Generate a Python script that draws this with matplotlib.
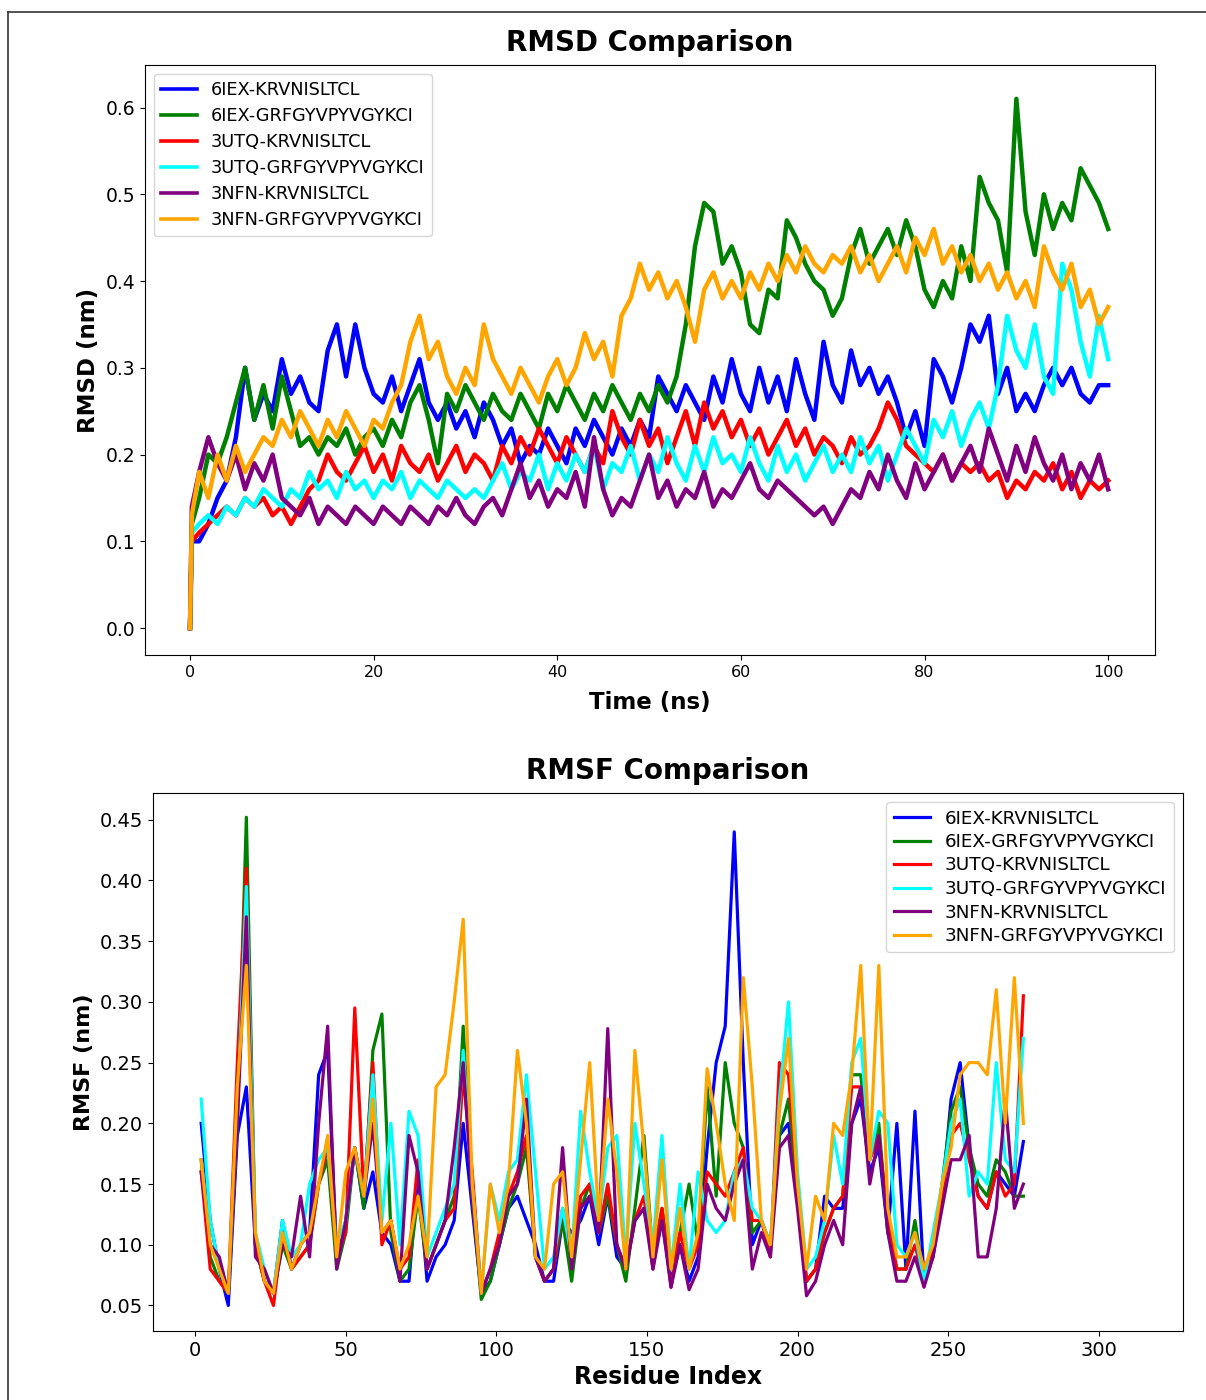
"""
RMSD / RMSF comparison of six peptide-protein complexes
"""

import matplotlib
matplotlib.use('Agg')
import matplotlib.pyplot as plt
from matplotlib.lines import Line2D
import numpy as np

# ---------------- data ----------------
labels = ["6IEX-KRVNISLTCL", "6IEX-GRFGYVPYVGYKCI",
          "3UTQ-KRVNISLTCL", "3UTQ-GRFGYVPYVGYKCI",
          "3NFN-KRVNISLTCL", "3NFN-GRFGYVPYVGYKCI"]
colors = ['blue', 'green', 'red', 'cyan', 'purple', 'orange']

# RMSD time axis (ns)
time_ns = np.concatenate(([0.0, 0.2], np.arange(1, 101)))

rmsd_6iex_krv = [0.00, 0.10,
    0.10, 0.12, 0.15, 0.17, 0.22, 0.30, 0.24, 0.27, 0.25, 0.31,
    0.27, 0.29, 0.26, 0.25, 0.32, 0.35, 0.29, 0.35, 0.30, 0.27,
    0.26, 0.29, 0.25, 0.28, 0.31, 0.26, 0.24, 0.26, 0.23, 0.25,
    0.22, 0.26, 0.24, 0.21, 0.23, 0.19, 0.21, 0.20, 0.23, 0.21,
    0.19, 0.23, 0.21, 0.24, 0.22, 0.20, 0.23, 0.21, 0.24, 0.22,
    0.29, 0.27, 0.25, 0.28, 0.26, 0.24, 0.29, 0.26, 0.31, 0.27,
    0.25, 0.30, 0.26, 0.29, 0.25, 0.31, 0.27, 0.24, 0.33, 0.28,
    0.26, 0.32, 0.28, 0.30, 0.27, 0.29, 0.26, 0.22, 0.25, 0.21,
    0.31, 0.29, 0.26, 0.30, 0.35, 0.33, 0.36, 0.27, 0.30, 0.25,
    0.27, 0.25, 0.28, 0.30, 0.28, 0.30, 0.27, 0.26, 0.28, 0.28]
rmsd_6iex_grf = [0.00, 0.12,
    0.15, 0.20, 0.19, 0.22, 0.26, 0.30, 0.24, 0.28, 0.23, 0.29,
    0.25, 0.21, 0.22, 0.20, 0.22, 0.21, 0.23, 0.20, 0.22, 0.23,
    0.21, 0.24, 0.22, 0.26, 0.28, 0.24, 0.19, 0.27, 0.25, 0.28,
    0.26, 0.24, 0.27, 0.25, 0.24, 0.27, 0.25, 0.23, 0.27, 0.25,
    0.28, 0.26, 0.24, 0.27, 0.25, 0.28, 0.26, 0.24, 0.27, 0.25,
    0.28, 0.26, 0.29, 0.35, 0.44, 0.49, 0.48, 0.42, 0.44, 0.41,
    0.35, 0.34, 0.39, 0.38, 0.47, 0.45, 0.42, 0.40, 0.39, 0.36,
    0.38, 0.43, 0.46, 0.42, 0.44, 0.46, 0.43, 0.47, 0.44, 0.39,
    0.37, 0.40, 0.38, 0.44, 0.40, 0.52, 0.49, 0.47, 0.41, 0.61,
    0.48, 0.43, 0.50, 0.46, 0.49, 0.47, 0.53, 0.51, 0.49, 0.46]
rmsd_3utq_krv = [0.00, 0.10,
    0.11, 0.12, 0.13, 0.14, 0.13, 0.15, 0.14, 0.15, 0.13, 0.14,
    0.12, 0.14, 0.16, 0.17, 0.20, 0.18, 0.17, 0.19, 0.21, 0.18,
    0.20, 0.17, 0.21, 0.19, 0.18, 0.20, 0.17, 0.19, 0.21, 0.18,
    0.20, 0.19, 0.17, 0.21, 0.19, 0.22, 0.20, 0.23, 0.21, 0.19,
    0.22, 0.20, 0.18, 0.21, 0.19, 0.25, 0.22, 0.20, 0.24, 0.21,
    0.23, 0.19, 0.22, 0.25, 0.21, 0.26, 0.23, 0.25, 0.22, 0.24,
    0.21, 0.23, 0.20, 0.22, 0.24, 0.21, 0.23, 0.20, 0.22, 0.21,
    0.19, 0.22, 0.20, 0.21, 0.23, 0.26, 0.24, 0.21, 0.20, 0.19,
    0.18, 0.20, 0.17, 0.19, 0.18, 0.19, 0.17, 0.18, 0.15, 0.17,
    0.16, 0.18, 0.17, 0.19, 0.16, 0.18, 0.15, 0.17, 0.16, 0.17]
rmsd_3utq_grf = [0.00, 0.11,
    0.12, 0.13, 0.12, 0.14, 0.13, 0.15, 0.14, 0.16, 0.15, 0.14,
    0.16, 0.15, 0.18, 0.16, 0.17, 0.15, 0.18, 0.16, 0.17, 0.15,
    0.17, 0.16, 0.18, 0.15, 0.17, 0.16, 0.15, 0.17, 0.16, 0.15,
    0.16, 0.15, 0.17, 0.19, 0.16, 0.18, 0.17, 0.20, 0.16, 0.19,
    0.17, 0.20, 0.18, 0.21, 0.16, 0.19, 0.18, 0.21, 0.17, 0.20,
    0.18, 0.22, 0.19, 0.17, 0.21, 0.18, 0.22, 0.19, 0.20, 0.18,
    0.22, 0.19, 0.17, 0.21, 0.18, 0.20, 0.17, 0.19, 0.21, 0.18,
    0.20, 0.18, 0.22, 0.19, 0.21, 0.17, 0.20, 0.23, 0.21, 0.19,
    0.24, 0.22, 0.25, 0.21, 0.24, 0.26, 0.23, 0.28, 0.36, 0.32,
    0.30, 0.35, 0.29, 0.27, 0.42, 0.39, 0.33, 0.29, 0.36, 0.31]
rmsd_3nfn_krv = [0.00, 0.14,
    0.18, 0.22, 0.19, 0.17, 0.20, 0.16, 0.19, 0.17, 0.20, 0.15,
    0.14, 0.13, 0.15, 0.12, 0.14, 0.13, 0.12, 0.14, 0.13, 0.12,
    0.14, 0.13, 0.12, 0.14, 0.13, 0.12, 0.14, 0.13, 0.15, 0.13,
    0.12, 0.14, 0.15, 0.13, 0.16, 0.19, 0.15, 0.17, 0.14, 0.16,
    0.15, 0.18, 0.14, 0.22, 0.16, 0.13, 0.15, 0.14, 0.17, 0.20,
    0.15, 0.17, 0.14, 0.16, 0.15, 0.18, 0.14, 0.16, 0.15, 0.17,
    0.19, 0.16, 0.15, 0.17, 0.16, 0.15, 0.14, 0.13, 0.14, 0.12,
    0.14, 0.16, 0.15, 0.18, 0.16, 0.20, 0.17, 0.15, 0.19, 0.16,
    0.18, 0.20, 0.17, 0.19, 0.21, 0.18, 0.23, 0.20, 0.17, 0.21,
    0.18, 0.22, 0.19, 0.17, 0.20, 0.16, 0.19, 0.17, 0.20, 0.16]
rmsd_3nfn_grf = [0.00, 0.13,
    0.18, 0.15, 0.20, 0.17, 0.21, 0.18, 0.20, 0.22, 0.21, 0.24,
    0.22, 0.25, 0.23, 0.21, 0.24, 0.22, 0.25, 0.23, 0.21, 0.24,
    0.23, 0.26, 0.28, 0.33, 0.36, 0.31, 0.33, 0.29, 0.27, 0.30,
    0.28, 0.35, 0.31, 0.29, 0.27, 0.30, 0.28, 0.26, 0.29, 0.31,
    0.28, 0.30, 0.34, 0.31, 0.33, 0.29, 0.36, 0.38, 0.42, 0.39,
    0.41, 0.38, 0.40, 0.37, 0.33, 0.39, 0.41, 0.38, 0.40, 0.38,
    0.41, 0.39, 0.42, 0.40, 0.43, 0.41, 0.44, 0.42, 0.41, 0.43,
    0.42, 0.44, 0.41, 0.43, 0.40, 0.42, 0.44, 0.41, 0.45, 0.43,
    0.46, 0.42, 0.44, 0.41, 0.43, 0.40, 0.42, 0.39, 0.41, 0.38,
    0.40, 0.37, 0.44, 0.41, 0.39, 0.42, 0.37, 0.39, 0.35, 0.37]

# RMSF residue axis (every third residue)
residue = np.arange(2, 277, 3)

rmsf_6iex_krv = [
    0.20, 0.12, 0.08, 0.05, 0.19, 0.23, 0.10, 0.07, 0.06, 0.12,
    0.08, 0.10, 0.11, 0.24, 0.26, 0.09, 0.12, 0.18, 0.13, 0.16,
    0.11, 0.10, 0.07, 0.07, 0.16, 0.07, 0.09, 0.10, 0.12, 0.20,
    0.13, 0.06, 0.07, 0.10, 0.13, 0.14, 0.12, 0.10, 0.07, 0.07,
    0.12, 0.11, 0.12, 0.14, 0.10, 0.14, 0.09, 0.08, 0.12, 0.13,
    0.09, 0.12, 0.07, 0.10, 0.07, 0.09, 0.18, 0.25, 0.28, 0.44,
    0.25, 0.10, 0.12, 0.10, 0.19, 0.20, 0.14, 0.07, 0.08, 0.14,
    0.13, 0.13, 0.20, 0.22, 0.16, 0.18, 0.11, 0.20, 0.08, 0.21,
    0.07, 0.09, 0.14, 0.22, 0.25, 0.18, 0.14, 0.13, 0.16, 0.15,
    0.14, 0.185]
rmsf_6iex_grf = [
    0.17, 0.09, 0.07, 0.06, 0.20, 0.452, 0.10, 0.07, 0.06, 0.10,
    0.08, 0.09, 0.10, 0.15, 0.17, 0.08, 0.11, 0.18, 0.13, 0.26,
    0.29, 0.11, 0.07, 0.08, 0.14, 0.08, 0.10, 0.12, 0.14, 0.28,
    0.14, 0.055, 0.07, 0.10, 0.13, 0.15, 0.18, 0.09, 0.07, 0.08,
    0.12, 0.07, 0.13, 0.15, 0.11, 0.14, 0.10, 0.07, 0.13, 0.19,
    0.09, 0.13, 0.08, 0.11, 0.15, 0.10, 0.23, 0.14, 0.25, 0.20,
    0.18, 0.11, 0.12, 0.10, 0.19, 0.22, 0.14, 0.07, 0.08, 0.11,
    0.13, 0.14, 0.24, 0.24, 0.17, 0.20, 0.11, 0.08, 0.08, 0.12,
    0.07, 0.10, 0.15, 0.21, 0.23, 0.18, 0.15, 0.14, 0.17, 0.16,
    0.14, 0.14]
rmsf_3utq_krv = [
    0.16, 0.08, 0.07, 0.06, 0.25, 0.41, 0.10, 0.07, 0.05, 0.11,
    0.08, 0.09, 0.10, 0.15, 0.18, 0.09, 0.11, 0.295, 0.14, 0.25,
    0.10, 0.12, 0.08, 0.09, 0.17, 0.08, 0.10, 0.12, 0.13, 0.24,
    0.16, 0.06, 0.08, 0.11, 0.14, 0.16, 0.19, 0.09, 0.07, 0.08,
    0.13, 0.09, 0.14, 0.15, 0.11, 0.15, 0.10, 0.08, 0.12, 0.14,
    0.08, 0.13, 0.065, 0.11, 0.08, 0.10, 0.16, 0.15, 0.14, 0.16,
    0.18, 0.12, 0.12, 0.09, 0.25, 0.24, 0.15, 0.07, 0.08, 0.11,
    0.13, 0.14, 0.23, 0.23, 0.17, 0.19, 0.12, 0.08, 0.08, 0.10,
    0.07, 0.10, 0.14, 0.19, 0.20, 0.17, 0.14, 0.13, 0.16, 0.14,
    0.15, 0.305]
rmsf_3utq_grf = [
    0.22, 0.12, 0.08, 0.06, 0.21, 0.395, 0.11, 0.08, 0.06, 0.12,
    0.09, 0.10, 0.15, 0.17, 0.18, 0.10, 0.12, 0.18, 0.14, 0.24,
    0.12, 0.20, 0.10, 0.21, 0.19, 0.09, 0.11, 0.13, 0.15, 0.26,
    0.15, 0.06, 0.15, 0.12, 0.16, 0.17, 0.24, 0.16, 0.08, 0.09,
    0.13, 0.09, 0.21, 0.16, 0.12, 0.18, 0.19, 0.09, 0.20, 0.15,
    0.10, 0.19, 0.08, 0.15, 0.08, 0.16, 0.12, 0.11, 0.12, 0.16,
    0.17, 0.13, 0.12, 0.10, 0.22, 0.30, 0.16, 0.08, 0.09, 0.12,
    0.19, 0.15, 0.25, 0.27, 0.17, 0.21, 0.20, 0.10, 0.09, 0.11,
    0.07, 0.11, 0.15, 0.20, 0.22, 0.14, 0.16, 0.15, 0.25, 0.17,
    0.16, 0.27]
rmsf_3nfn_krv = [
    0.16, 0.10, 0.09, 0.06, 0.20, 0.37, 0.09, 0.08, 0.06, 0.10,
    0.09, 0.14, 0.09, 0.20, 0.28, 0.08, 0.12, 0.18, 0.14, 0.20,
    0.11, 0.12, 0.07, 0.19, 0.16, 0.08, 0.10, 0.12, 0.18, 0.25,
    0.14, 0.06, 0.08, 0.10, 0.14, 0.15, 0.22, 0.09, 0.07, 0.08,
    0.18, 0.08, 0.13, 0.14, 0.11, 0.278, 0.10, 0.08, 0.12, 0.13,
    0.08, 0.12, 0.065, 0.10, 0.063, 0.08, 0.15, 0.13, 0.12, 0.15,
    0.17, 0.08, 0.11, 0.09, 0.18, 0.19, 0.13, 0.058, 0.07, 0.10,
    0.12, 0.10, 0.20, 0.23, 0.15, 0.19, 0.11, 0.07, 0.07, 0.09,
    0.065, 0.09, 0.13, 0.17, 0.17, 0.19, 0.09, 0.09, 0.13, 0.22,
    0.13, 0.15]
rmsf_3nfn_grf = [
    0.17, 0.10, 0.08, 0.06, 0.23, 0.33, 0.11, 0.07, 0.06, 0.11,
    0.08, 0.10, 0.11, 0.15, 0.19, 0.09, 0.16, 0.18, 0.14, 0.22,
    0.11, 0.12, 0.08, 0.10, 0.14, 0.09, 0.23, 0.24, 0.30, 0.368,
    0.15, 0.06, 0.15, 0.11, 0.15, 0.26, 0.20, 0.09, 0.08, 0.15,
    0.16, 0.09, 0.17, 0.25, 0.12, 0.22, 0.16, 0.08, 0.26, 0.18,
    0.09, 0.17, 0.08, 0.13, 0.08, 0.11, 0.245, 0.20, 0.15, 0.12,
    0.32, 0.23, 0.12, 0.10, 0.21, 0.27, 0.15, 0.08, 0.14, 0.12,
    0.20, 0.19, 0.24, 0.33, 0.17, 0.33, 0.13, 0.09, 0.09, 0.11,
    0.08, 0.10, 0.15, 0.18, 0.24, 0.25, 0.25, 0.24, 0.31, 0.20,
    0.32, 0.20]

rmsd_series = [rmsd_6iex_krv, rmsd_6iex_grf, rmsd_3utq_krv,
               rmsd_3utq_grf, rmsd_3nfn_krv, rmsd_3nfn_grf]
rmsf_series = [rmsf_6iex_krv, rmsf_6iex_grf, rmsf_3utq_krv,
               rmsf_3utq_grf, rmsf_3nfn_krv, rmsf_3nfn_grf]

W, H = 1206, 1400


def draw():
    fig = plt.figure(figsize=(W / 100, H / 100), dpi=100)

    # thin frame around the screenshot
    fig.add_artist(Line2D([8 / W, 8 / W], [0, 1 - 12 / H], transform=fig.transFigure,
                          color='#333333', linewidth=1.2))
    fig.add_artist(Line2D([8 / W, 1], [1 - 12 / H, 1 - 12 / H], transform=fig.transFigure,
                          color='#333333', linewidth=1.2))

    # ---- RMSD ----
    ax1 = fig.add_axes([145 / W, 1 - 655 / H, 1010 / W, 590 / H])
    for vals, lab, col in zip(rmsd_series, labels, colors):
        ax1.plot(time_ns, vals, color=col, linewidth=3.2, label=lab)
    ax1.set_xlim(-4.9, 105.1)
    ax1.set_ylim(-0.031, 0.649)
    ax1.set_xticks(np.arange(0, 101, 20))
    ax1.set_yticks(np.arange(0, 0.61, 0.1))
    ax1.set_yticklabels([f'{v:.1f}' for v in np.arange(0, 0.61, 0.1)])
    ax1.tick_params(axis='x', labelsize=11.5)
    ax1.tick_params(axis='y', labelsize=13.5)
    ax1.set_title('RMSD Comparison', fontsize=20, fontweight='bold', pad=10)
    ax1.set_xlabel('Time (ns)', fontsize=16.5, fontweight='bold', labelpad=8)
    ax1.set_ylabel('RMSD (nm)', fontsize=16.5, fontweight='bold')
    leg1 = ax1.legend(loc='upper left', fontsize=12.8, handlelength=2.0, labelspacing=0.45)
    for ln in leg1.get_lines():
        ln.set_linewidth(2.6)

    # ---- RMSF ----
    ax2 = fig.add_axes([153 / W, 1 - 1331 / H, 1030 / W, 538 / H])
    for vals, lab, col in zip(rmsf_series, labels, colors):
        ax2.plot(residue, vals, color=col, linewidth=2.3, label=lab)
    ax2.set_xlim(-14, 328)
    ax2.set_ylim(0.029, 0.472)
    ax2.set_xticks(np.arange(0, 301, 50))
    yt = np.arange(0.05, 0.451, 0.05)
    ax2.set_yticks(yt)
    ax2.set_yticklabels([f'{v:.2f}' for v in yt])
    ax2.tick_params(axis='both', labelsize=14)
    ax2.set_title('RMSF Comparison', fontsize=20, fontweight='bold', pad=10)
    ax2.set_xlabel('Residue Index', fontsize=17, fontweight='bold')
    ax2.set_ylabel('RMSF (nm)', fontsize=16, fontweight='bold')
    ax2.legend(loc='upper right', fontsize=13.2, handlelength=2.0, labelspacing=0.3)

    fig.savefig('out.png', dpi=100, facecolor='white')
    plt.close(fig)


if __name__ == "__main__":
    assert all(len(s) == len(time_ns) for s in rmsd_series)
    assert all(len(s) == len(residue) for s in rmsf_series)
    draw()
